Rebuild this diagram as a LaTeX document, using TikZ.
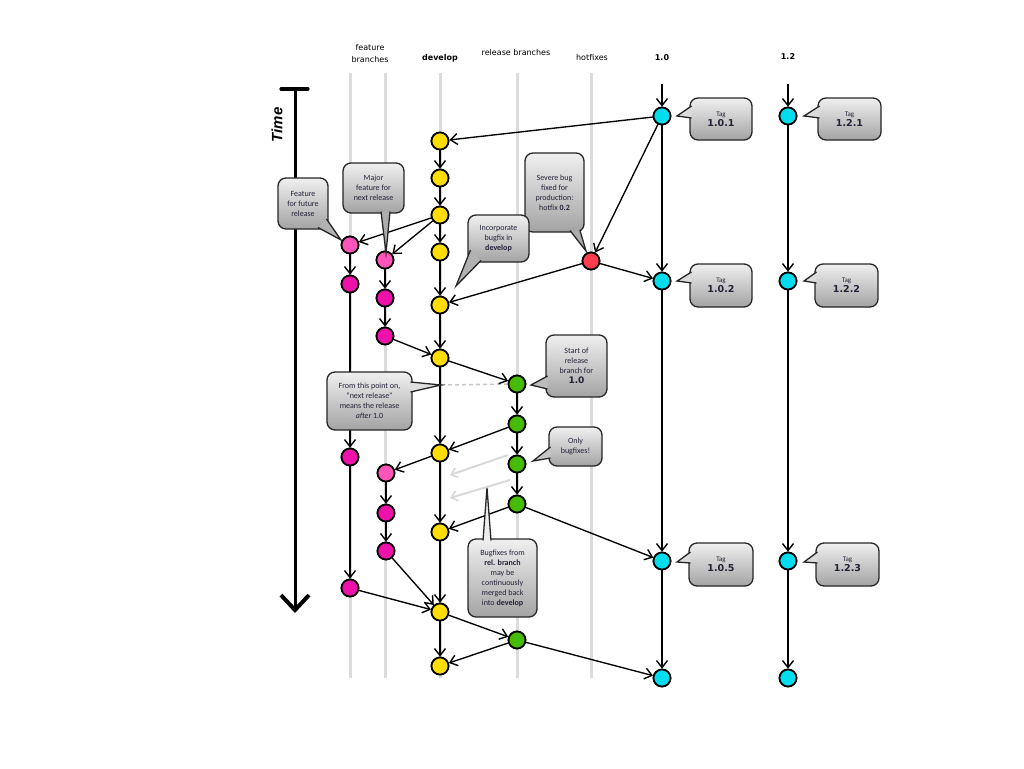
\documentclass[tikz,border=0pt]{standalone}
\usepackage{fontspec}
\setmainfont{Carlito}
\newfontfamily\hdr{DejaVu Sans}
\newfontfamily\timefont{Liberation Sans}
\usetikzlibrary{arrows.meta}
\definecolor{cyel}{HTML}{FFDD00}
\definecolor{cmag}{HTML}{EE11AA}
\definecolor{cpink}{HTML}{FF55BB}
\definecolor{cgreen}{HTML}{44BB00}
\definecolor{cred}{HTML}{FF3D4D}
\definecolor{ccyan}{HTML}{00DDEE}
\definecolor{lanegray}{HTML}{DCDCDC}
\definecolor{ctext}{HTML}{222238}
\newcommand\ptr[4]{\fill[#4] #1 -- #3 -- #2 -- cycle; \draw[ptrline] #1 -- #3 -- #2;}
\begin{document}
\begin{tikzpicture}[x=1pt,y=-1pt,
  commit/.style={circle, draw=black, line width=1.7pt, minimum size=17pt, inner sep=0pt},
  dev/.style={commit, fill=cyel},
  feat/.style={commit, fill=cmag},
  featl/.style={commit, fill=cpink},
  relc/.style={commit, fill=cgreen},
  hot/.style={commit, fill=cred},
  tagc/.style={commit, fill=ccyan},
  arr/.style={line width=1.35pt, black, -{Straight Barb[length=7pt,width=11pt,line width=1.4pt]}},
  ghost/.style={line width=2pt, black!15, -{Straight Barb[length=6pt,width=10pt,line width=1.6pt]}},
  lane/.style={line width=3pt, lanegray},
  callbox/.style={draw=black!85, line width=1.3pt, rounded corners=8pt, top color=black!6, bottom color=black!36, align=center, font=\fontsize{8}{10}\selectfont, text=ctext, inner sep=0pt},
  ptrline/.style={draw=black!85, line width=1.3pt, line join=miter},
  hdrtxt/.style={font=\hdr\fontsize{8}{12}\selectfont, align=center}
]
\useasboundingbox (0,0) rectangle (1024,768);

% headers
\node[hdrtxt] (hfeat) at (370,53.5) {feature\\branches};
\node[hdrtxt, font=\hdr\bfseries\fontsize{8}{10}\selectfont] (hdev) at (440,58) {develop};
\node[hdrtxt] (hrel) at (516,53) {release branches};
\node[hdrtxt] (hhot) at (592,58) {hotfixes};
\node[hdrtxt, font=\hdr\bfseries\fontsize{8}{10}\selectfont] (h10) at (662,58) {1.0};
\node[hdrtxt, font=\hdr\bfseries\fontsize{8}{10}\selectfont] (h12) at (788,57) {1.2};

% lanes
\foreach \lx in {350,385,440,517,591}{\draw[lane] (\lx,73) -- (\lx,678);}

% time axis
\coordinate (tl) at (281,89);
\coordinate (tr) at (308,89);
\coordinate (ttop) at (295,89);
\coordinate (tbot) at (295,613);
\draw[line width=3.2pt, line cap=round] (tl) -- (tr);
\draw[line width=3pt, -{Straight Barb[length=15pt,width=28pt,line width=4pt]}] (ttop) -- (tbot);
\node[rotate=90, font=\timefont\bfseries\itshape\fontsize{15}{15}\selectfont] (time) at (277,125) {Time};

% commits: develop
\node[dev] (d1) at (440,141) {};
\node[dev] (d2) at (440,178) {};
\node[dev] (d3) at (440,215) {};
\node[dev] (d4) at (440,252) {};
\node[dev] (d5) at (440,305) {};
\node[dev] (d6) at (440,358) {};
\node[dev] (d7) at (440,453) {};
\node[dev] (d8) at (440,532) {};
\node[dev] (d9) at (440,612) {};
\node[dev] (d10) at (440,666) {};
% feature 1
\node[featl] (fa1) at (350,245) {};
\node[feat] (fa2) at (350,284) {};
\node[feat] (fa3) at (350,457) {};
\node[feat] (fa4) at (350,588) {};
% feature 2
\node[featl] (fb1) at (385,260) {};
\node[feat] (fb2) at (385,298) {};
\node[feat] (fb3) at (385,336) {};
\node[featl] (fb4) at (386,473) {};
\node[feat] (fb5) at (386,513) {};
\node[feat] (fb6) at (386,551) {};
% release
\node[relc] (r1) at (517,384) {};
\node[relc] (r2) at (517,424) {};
\node[relc] (r3) at (517,464) {};
\node[relc] (r4) at (517,504) {};
\node[relc] (r5) at (517,640) {};
% hotfix
\node[hot] (h1) at (591,261) {};
% 1.0
\node[tagc] (a1) at (662,116) {};
\node[tagc] (a2) at (662,281) {};
\node[tagc] (a3) at (662,561) {};
\node[tagc] (a4) at (662,678) {};
% 1.2
\node[tagc] (b1) at (788,116) {};
\node[tagc] (b2) at (788,281) {};
\node[tagc] (b3) at (788,561) {};
\node[tagc] (b4) at (788,678) {};

\coordinate (atop) at (662,84);
\coordinate (btop) at (788,84);
\coordinate (g1s) at (508,455);
\coordinate (g1e) at (450,475);
\coordinate (g2s) at (510,480);
\coordinate (g2e) at (450,498);
\coordinate (fromtip) at (441,385);

% ghost arrows and dashed line
\draw[ghost] (g1s) -- (g1e);
\draw[ghost] (g2s) -- (g2e);
\draw[line width=1.6pt, black!22, dash pattern=on 4pt off 3pt] (fromtip) -- (r1);

% connectors
\draw[arr] (d1) -- (d2);
\draw[arr] (d2) -- (d3);
\draw[arr] (d3) -- (d4);
\draw[arr] (d4) -- (d5);
\draw[arr] (d5) -- (d6);
\draw[arr] (d6) -- (d7);
\draw[arr] (d7) -- (d8);
\draw[arr] (d8) -- (d9);
\draw[arr] (d9) -- (d10);
\draw[arr] (fa1) -- (fa2);
\draw[arr] (fa2) -- (fa3);
\draw[arr] (fa3) -- (fa4);
\draw[arr] (fa4) -- (d9);
\draw[arr] (fb1) -- (fb2);
\draw[arr] (fb2) -- (fb3);
\draw[arr] (fb3) -- (d6);
\draw[arr] (d7) -- (fb4);
\draw[arr] (fb4) -- (fb5);
\draw[arr] (fb5) -- (fb6);
\draw[arr] (fb6) -- (d9);
\draw[arr] (d3) -- (fa1);
\draw[arr] (d3) -- (fb1);
\draw[arr] (a1) -- (d1);
\draw[arr] (a1) -- (h1);
\draw[arr] (h1) -- (a2);
\draw[arr] (h1) -- (d5);
\draw[arr] (atop) -- (a1);
\draw[arr] (a1) -- (a2);
\draw[arr] (a2) -- (a3);
\draw[arr] (a3) -- (a4);
\draw[arr] (btop) -- (b1);
\draw[arr] (b1) -- (b2);
\draw[arr] (b2) -- (b3);
\draw[arr] (b3) -- (b4);
\draw[arr] (d6) -- (r1);
\draw[arr] (r1) -- (r2);
\draw[arr] (r2) -- (r3);
\draw[arr] (r3) -- (r4);
\draw[arr] (r2) -- (d7);
\draw[arr] (r4) -- (d8);
\draw[arr] (r4) -- (a3);
\draw[arr] (d9) -- (r5);
\draw[arr] (r5) -- (d10);
\draw[arr] (r5) -- (a4);

% redraw commits on top
\foreach \n in {d1,d2,d3,d4,d5,d6,d7,d8,d9,d10}{\node[dev] at (\n) {};}
\foreach \n in {fa2,fa3,fa4,fb2,fb3,fb5,fb6}{\node[feat] at (\n) {};}
\foreach \n in {fa1,fb1,fb4}{\node[featl] at (\n) {};}
\foreach \n in {r1,r2,r3,r4,r5}{\node[relc] at (\n) {};}
\node[hot] at (h1) {};
\foreach \n in {a1,a2,a3,a4,b1,b2,b3,b4}{\node[tagc] at (\n) {};}

% callouts
\node[callbox, minimum width=50pt, minimum height=51pt] (fut) at (303,203.5) {Feature\\for future\\release};
\ptr{(318,227.5)}{(326.5,219)}{(341,240)}{black!30}
\node[callbox, minimum width=61pt, minimum height=50pt] (maj) at (373.5,188) {Major\\feature for\\next release};
\ptr{(381,211.5)}{(390,211.5)}{(386,253)}{black!32}
\node[callbox, minimum width=59pt, minimum height=79pt] (sev) at (554.5,192.5) {Severe bug\\fixed for\\production:\\hotfix \textbf{0.2}};
\ptr{(570,230.5)}{(580,230.5)}{(586,251)}{black!32}
\node[callbox, minimum width=61pt, minimum height=47pt] (inc) at (498.5,238.5) {Incorporate\\bugfix in\\\textbf{develop}};
\ptr{(470.5,250)}{(481,260.5)}{(456,286)}{black!30}
\node[callbox, minimum width=61pt, minimum height=62pt] (start) at (576.5,366) {Start of\\release\\branch for\\{\hdr\bfseries\fontsize{9}{11}\selectfont 1.0}};
\ptr{(547.5,376)}{(547.5,389)}{(531,385)}{black!26}
\node[callbox, minimum width=85pt, minimum height=58pt] (from) at (369.5,401) {From this point on,\\``next release''\\means the release\\\textit{after} 1.0};
\ptr{(410.5,382)}{(410.5,392)}{(fromtip)}{black!13}
\node[callbox, minimum width=53pt, minimum height=39pt] (only) at (575.5,446.5) {Only\\bugfixes!};
\ptr{(550.5,447)}{(550.5,458)}{(533,461)}{black!22}
\node[callbox, minimum width=69pt, minimum height=78pt] (bug) at (502.5,578) {Bugfixes from\\\textbf{rel. branch}\\may be\\continuously\\merged back\\into \textbf{develop}};
\ptr{(483,540.5)}{(491,540.5)}{(487,488)}{black!7}

% tags
\node[callbox, minimum width=62pt, minimum height=42pt] (t101) at (721,119) {{\fontsize{7}{8}\selectfont Tag}\\{\hdr\bfseries\fontsize{9.5}{11}\selectfont 1.0.1}};
\ptr{(691.5,106)}{(691.5,118)}{(677,116)}{black!14}
\node[callbox, minimum width=63pt, minimum height=42pt] (t121) at (849.5,119) {{\fontsize{7}{8}\selectfont Tag}\\{\hdr\bfseries\fontsize{9.5}{11}\selectfont 1.2.1}};
\ptr{(819.5,106)}{(819.5,118)}{(804,116)}{black!14}
\node[callbox, minimum width=62pt, minimum height=43pt] (t102) at (721,285.5) {{\fontsize{7}{8}\selectfont Tag}\\{\hdr\bfseries\fontsize{9.5}{11}\selectfont 1.0.2}};
\ptr{(691.5,272)}{(691.5,283)}{(677,281)}{black!14}
\node[callbox, minimum width=63pt, minimum height=43pt] (t122) at (846.5,285.5) {{\fontsize{7}{8}\selectfont Tag}\\{\hdr\bfseries\fontsize{9.5}{11}\selectfont 1.2.2}};
\ptr{(816.5,272)}{(816.5,283)}{(804,281)}{black!14}
\node[callbox, minimum width=64pt, minimum height=43pt] (t105) at (721,564.5) {{\fontsize{7}{8}\selectfont Tag}\\{\hdr\bfseries\fontsize{9.5}{11}\selectfont 1.0.5}};
\ptr{(690.5,552)}{(690.5,563)}{(677,562)}{black!14}
\node[callbox, minimum width=63pt, minimum height=43pt] (t123) at (847.5,564.5) {{\fontsize{7}{8}\selectfont Tag}\\{\hdr\bfseries\fontsize{9.5}{11}\selectfont 1.2.3}};
\ptr{(817.5,552)}{(817.5,563)}{(804,562)}{black!14}
\end{tikzpicture}
\end{document}
